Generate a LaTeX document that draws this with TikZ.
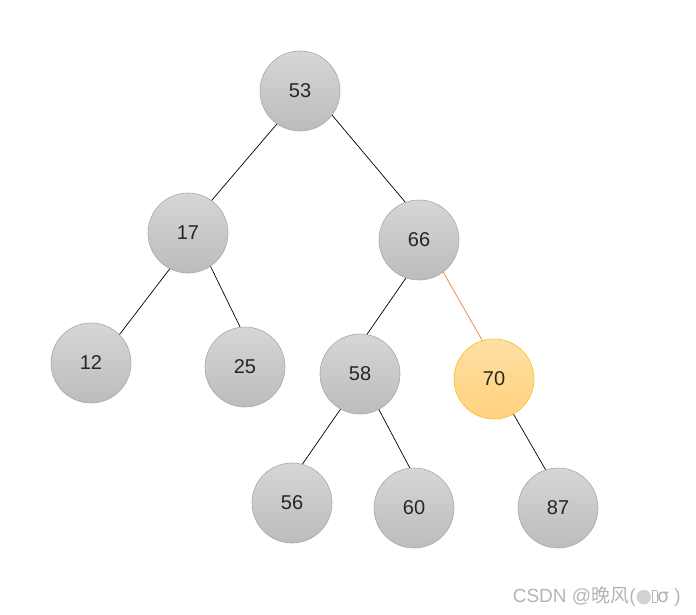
\documentclass[tikz,border=0pt]{standalone}
\usepackage{fontspec}
\setmainfont{Liberation Sans}
\newfontfamily\cjk{Noto Sans CJK SC}
\newfontfamily\djv{DejaVu Sans}
\definecolor{nodetop}{HTML}{D6D6D6}
\definecolor{nodebot}{HTML}{BCBCBC}
\definecolor{nodeedge}{HTML}{A8A8A8}
\definecolor{hltop}{HTML}{FFDFA3}
\definecolor{hlbot}{HTML}{FFD27E}
\definecolor{hledge}{HTML}{F5BE2A}
\definecolor{hlline}{HTML}{F08A4B}
\definecolor{wm}{HTML}{B4B4B4}
\begin{document}
\begin{tikzpicture}[x=1pt,y=-1pt,
  treenode/.style={circle,minimum size=80pt,inner sep=0pt,draw=nodeedge,line width=0.6pt,
    top color=nodetop,bottom color=nodebot,font=\fontsize{20}{22}\selectfont,text=black!85},
  hlnode/.style={treenode,draw=hledge,top color=hltop,bottom color=hlbot},
  edge/.style={draw=black,line width=0.7pt},
  hledge/.style={draw=hlline,line width=0.8pt}]
\useasboundingbox (0,0) rectangle (696,615);
\node[treenode] (n53) at (300,91) {53};
\node[treenode] (n17) at (188,233) {17};
\node[treenode] (n66) at (419,240) {66};
\node[treenode] (n12) at (91,363) {12};
\node[treenode] (n25) at (245,367) {25};
\node[treenode] (n58) at (360,374) {58};
\node[hlnode] (n70) at (494,379) {70};
\node[treenode] (n56) at (292,503) {56};
\node[treenode] (n60) at (414,508) {60};
\node[treenode] (n87) at (558,508) {87};
\draw[edge] (n53.-125) -- (n17.54);
\draw[edge] (n53.-37) -- (n66.110);
\draw[edge] (n17.-117) -- (n12.45);
\draw[edge] (n17.-56) -- (n25.97);
\draw[edge] (n66.-109) -- (n58.80);
\draw[hledge] (n66.-53) -- (n70.107);
\draw[edge] (n58.-119) -- (n56.75);
\draw[edge] (n58.-62) -- (n60.96);
\draw[edge] (n70.-61) -- (n87.108);
\node[anchor=east,text=wm,inner sep=0pt,font=\fontsize{19}{21}\selectfont] (wm) at (681,596)
  {CSDN @{\cjk 晚风}(\textcolor{wm!60}{\djv ●}{\setlength{\fboxsep}{0pt}\setlength{\fboxrule}{0.6pt}\framebox[5pt]{\rule{0pt}{11pt}}}{\djv σ}\ )};
\end{tikzpicture}
\end{document}
